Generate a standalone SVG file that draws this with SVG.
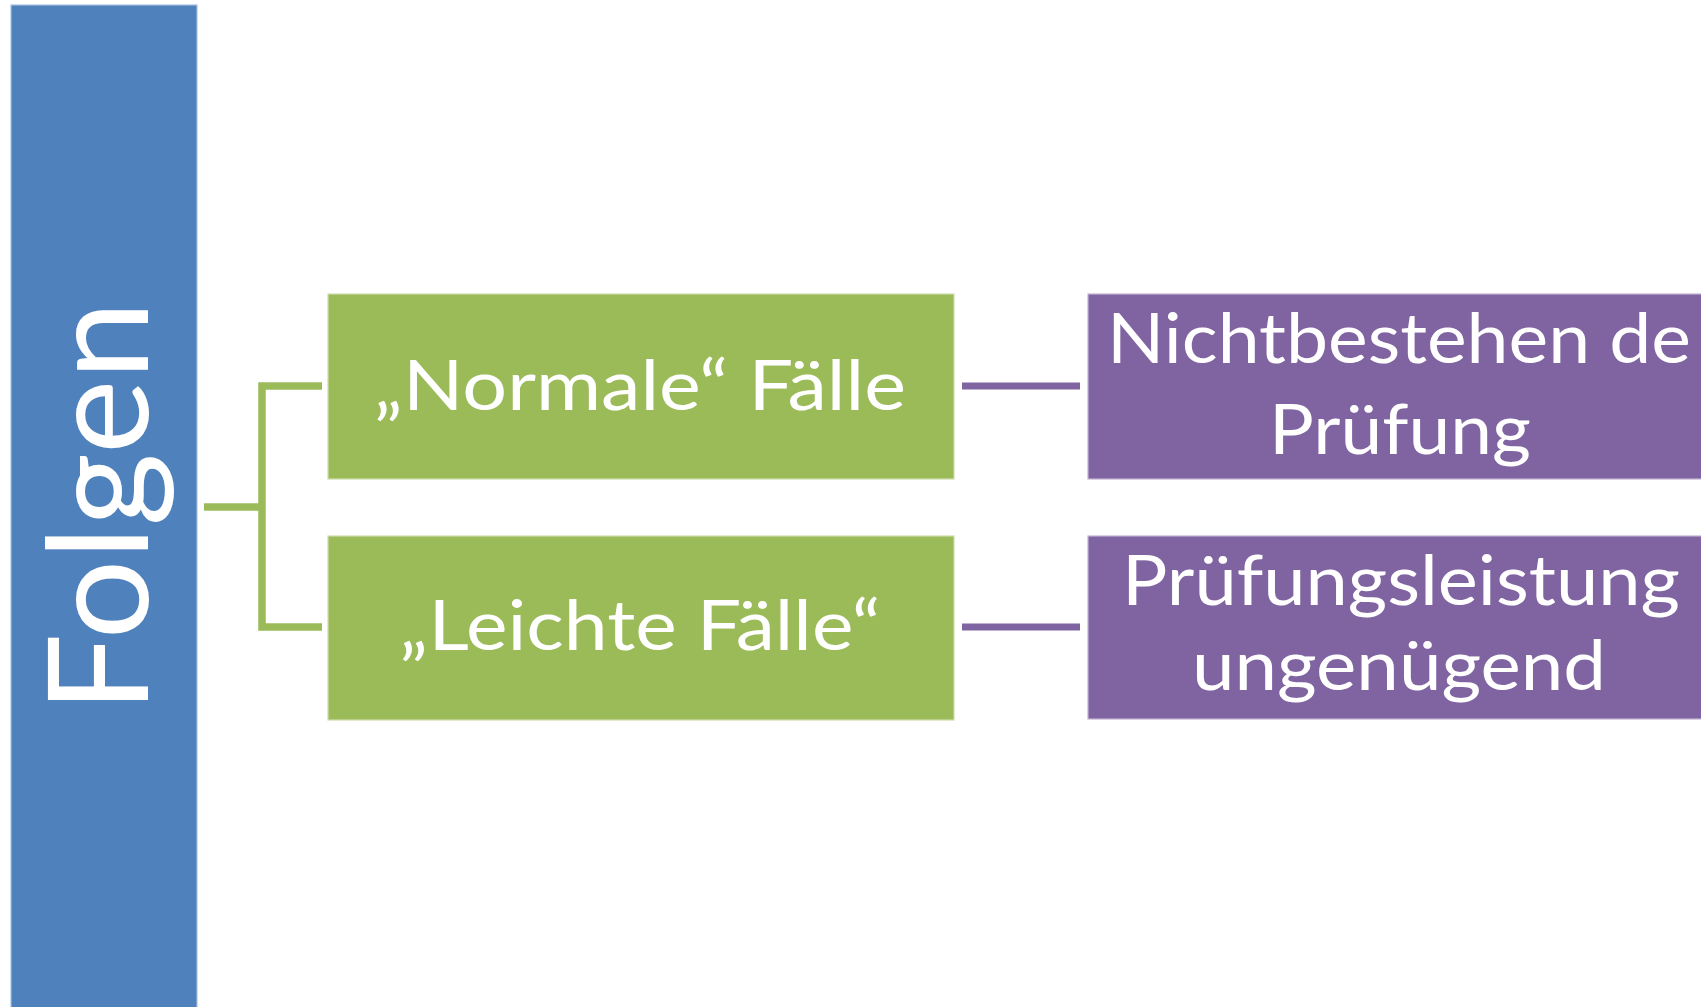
<svg xmlns="http://www.w3.org/2000/svg" width="1701" height="1007" viewBox="0 0 1701 1007">
<style>
.lbl{font-family:Lato,"Open Sans","Liberation Sans",sans-serif;fill:#fff;}
.t{font-size:69px;}
.blue{fill:#4F81BD;stroke:#A7C0DE;stroke-width:1.2;}
.green{fill:#9BBB59;stroke:#CDDDAC;stroke-width:1.2;}
.purple{fill:#8064A2;stroke:#C0B2D1;stroke-width:1.2;}
.cg{fill:none;stroke:#9BBB59;stroke-width:7.5;}
.cp{fill:none;stroke:#8064A2;stroke-width:7;}
</style>
<rect width="1701" height="1007" fill="#fff"/>
<g id="connectors">
<path class="cg" d="M204,507 H262 M322,386 H262 V627 H322"/>
<path class="cp" d="M962,386 H1080"/>
<path class="cp" d="M962,627 H1080"/>
</g>
<g id="folgen">
<rect class="blue" x="11" y="5" width="186" height="1010"/>
<text class="lbl" font-size="140" text-anchor="middle" textLength="412" lengthAdjust="spacingAndGlyphs" transform="translate(148,507) rotate(-90)">Folgen</text>
</g>
<g id="normale">
<rect class="green" x="328" y="294" width="626" height="185"/>
<text class="lbl t" x="640" y="410" text-anchor="middle" textLength="532" lengthAdjust="spacingAndGlyphs">„Normale“ Fälle</text>
</g>
<g id="leichte">
<rect class="green" x="328" y="536" width="626" height="184"/>
<text class="lbl t" x="640" y="650" text-anchor="middle" textLength="481" lengthAdjust="spacingAndGlyphs">„Leichte Fälle“</text>
</g>
<g id="nichtbestehen">
<rect class="purple" x="1088" y="294" width="626" height="185"/>
<text class="lbl t" x="1107" y="363" textLength="584" lengthAdjust="spacingAndGlyphs">Nichtbestehen de</text>
<text class="lbl t" x="1400" y="454" text-anchor="middle" textLength="262" lengthAdjust="spacingAndGlyphs">Prüfung</text>
</g>
<g id="ungenuegend">
<rect class="purple" x="1088" y="536" width="626" height="183"/>
<text class="lbl t" x="1401" y="605" text-anchor="middle" textLength="558" lengthAdjust="spacingAndGlyphs">Prüfungsleistung</text>
<text class="lbl t" x="1399" y="690" text-anchor="middle" textLength="414" lengthAdjust="spacingAndGlyphs">ungenügend</text>
</g>
</svg>
